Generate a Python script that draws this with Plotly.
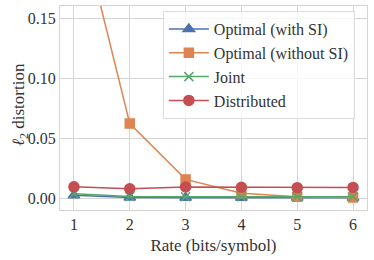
import plotly.graph_objects as go

rates = [1, 2, 3, 4, 5, 6]
opt_with_si = [0.0022, 0.0004, 0.0003, 0.0003, 0.0002, 0.0002]
opt_without_si = [0.25, 0.062, 0.0155, 0.004, 0.001, 0.0004]
joint = [0.0035, 0.0012, 0.0010, 0.0010, 0.0010, 0.0010]
distributed = [0.0093, 0.0077, 0.0092, 0.0090, 0.0086, 0.0088]

series = [
    ("Optimal (with SI)", opt_with_si, "#4c72b0", "triangle-up", 10),
    ("Optimal (without SI)", opt_without_si, "#dd8452", "square", 9),
    ("Joint", joint, "#55a868", "x-thin", 9),
    ("Distributed", distributed, "#c44e52", "circle", 10),
]

fig = go.Figure()
for name, vals, col, sym, sz in series:
    fig.add_trace(go.Scatter(
        x=rates, y=vals, name=name, mode="lines+markers",
        line=dict(color=col, width=1.5),
        marker=dict(symbol=sym, size=sz, color=col,
                    line=dict(color=col, width=1.5)),
    ))

font = "Liberation Serif, Times New Roman, serif"
fig.update_layout(
    width=374, height=260,
    margin=dict(l=60, r=7, t=6, b=50, autoexpand=False),
    paper_bgcolor="white", plot_bgcolor="white",
    font=dict(family=font, size=16, color="#333333"),
    legend=dict(x=0.335, y=0.975, xanchor="left", yanchor="top",
                bgcolor="rgba(255,255,255,0.8)", bordercolor="#dddddd",
                borderwidth=1, font=dict(family=font, size=16), tracegroupgap=0,
                itemwidth=40),
    showlegend=True,
    annotations=[dict(
        text="<i>ℓ</i><sub>2</sub> distortion", xref="paper", yref="paper",
        x=-0.13, y=0.515, xanchor="center", yanchor="middle",
        textangle=-90, showarrow=False, font=dict(family=font, size=17),
    )],
)
fig.update_xaxes(
    range=[0.75, 6.25], tickvals=rates, ticktext=[str(r) for r in rates],
    showgrid=True, gridcolor="#d5d5d5", gridwidth=1, automargin=False,
    showline=True, linecolor="#d5d5d5", mirror=True, zeroline=False,
    title=dict(text="Rate (bits/symbol)", standoff=6, font=dict(family=font, size=17)),
    tickfont=dict(family=font, size=16), ticks="",
)
fig.update_yaxes(
    range=[-0.01, 0.16], tickvals=[0, 0.05, 0.10, 0.15],
    ticktext=["0.00", "0.05", "0.10", "0.15"],
    showgrid=True, gridcolor="#d5d5d5", gridwidth=1, automargin=False,
    showline=True, linecolor="#d5d5d5", mirror=True, zeroline=False,
    tickfont=dict(family=font, size=16), ticks="",
)
fig.write_html("out.html", config={"displayModeBar": False},
               post_script="document.body.style.margin='0';")
